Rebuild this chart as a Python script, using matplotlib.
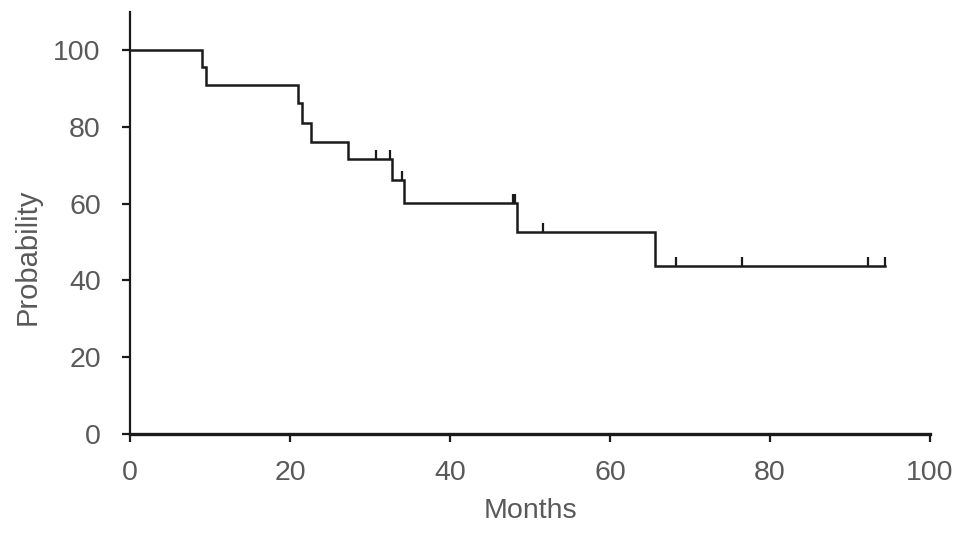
import numpy as np
import matplotlib
matplotlib.use("Agg")
import matplotlib.pyplot as plt
from matplotlib.path import Path

# Kaplan-Meier step data (months, probability %)
step_times = [0, 9.0, 9.5, 21.0, 21.5, 22.6, 27.2, 32.8, 34.2, 48.4, 65.6]
step_surv = [100, 95.5, 90.9, 86.1, 81.1, 76.1, 71.6, 66.1, 60.1, 52.5, 43.8]
end_time = 94.4
censor_times = [30.75, 32.5, 34.0, 47.9, 48.1, 51.6, 68.25, 76.5, 92.2, 94.4]

x_ticks = [0, 20, 40, 60, 80, 100]
y_ticks = [0, 20, 40, 60, 80, 100]

plt.rcParams['font.family'] = ['Liberation Sans', 'DejaVu Sans']
grey = '#595959'

fig = plt.figure(figsize=(9.69, 5.33), dpi=100)
ax = fig.add_axes([130/969, 1 - 434/533, 800/969, (434 - 11.6)/533])

xs = step_times + [end_time]
ys = step_surv + [step_surv[-1]]
ax.step(xs, ys, where='post', color='#1a1a1a', lw=1.8, solid_joinstyle='miter')

# censor marks: short vertical tick going up
idx = np.searchsorted(step_times, censor_times, side='right') - 1
cy = [step_surv[i] for i in idx]
tick_marker = Path([(0, 0), (0, 1)], [Path.MOVETO, Path.LINETO])
ax.plot(censor_times, cy, linestyle='none', marker=tick_marker, markersize=13,
        markeredgewidth=1.6, color='#1a1a1a')

ax.set_xlim(0, 100)
ax.set_ylim(0, 110)
ax.set_xticks(x_ticks)
ax.set_yticks(y_ticks)
for s in ['top', 'right']:
    ax.spines[s].set_visible(False)
ax.spines['left'].set_linewidth(1.6)
ax.spines['bottom'].set_linewidth(2.4)
ax.spines['left'].set_color('#1a1a1a')
ax.spines['bottom'].set_color('#1a1a1a')
ax.tick_params(axis='both', direction='out', length=6, width=1.6, color='#1a1a1a',
               labelsize=20.5, labelcolor=grey)
ax.tick_params(axis='y', pad=15)
ax.tick_params(axis='x', pad=13)
ax.set_xlabel('Months', fontsize=20.5, color=grey, labelpad=8)
ax.set_ylabel('Probability', fontsize=21, color=grey)
ax.yaxis.set_label_coords(-0.11, 0.42)

fig.savefig('out.png', dpi=100)
